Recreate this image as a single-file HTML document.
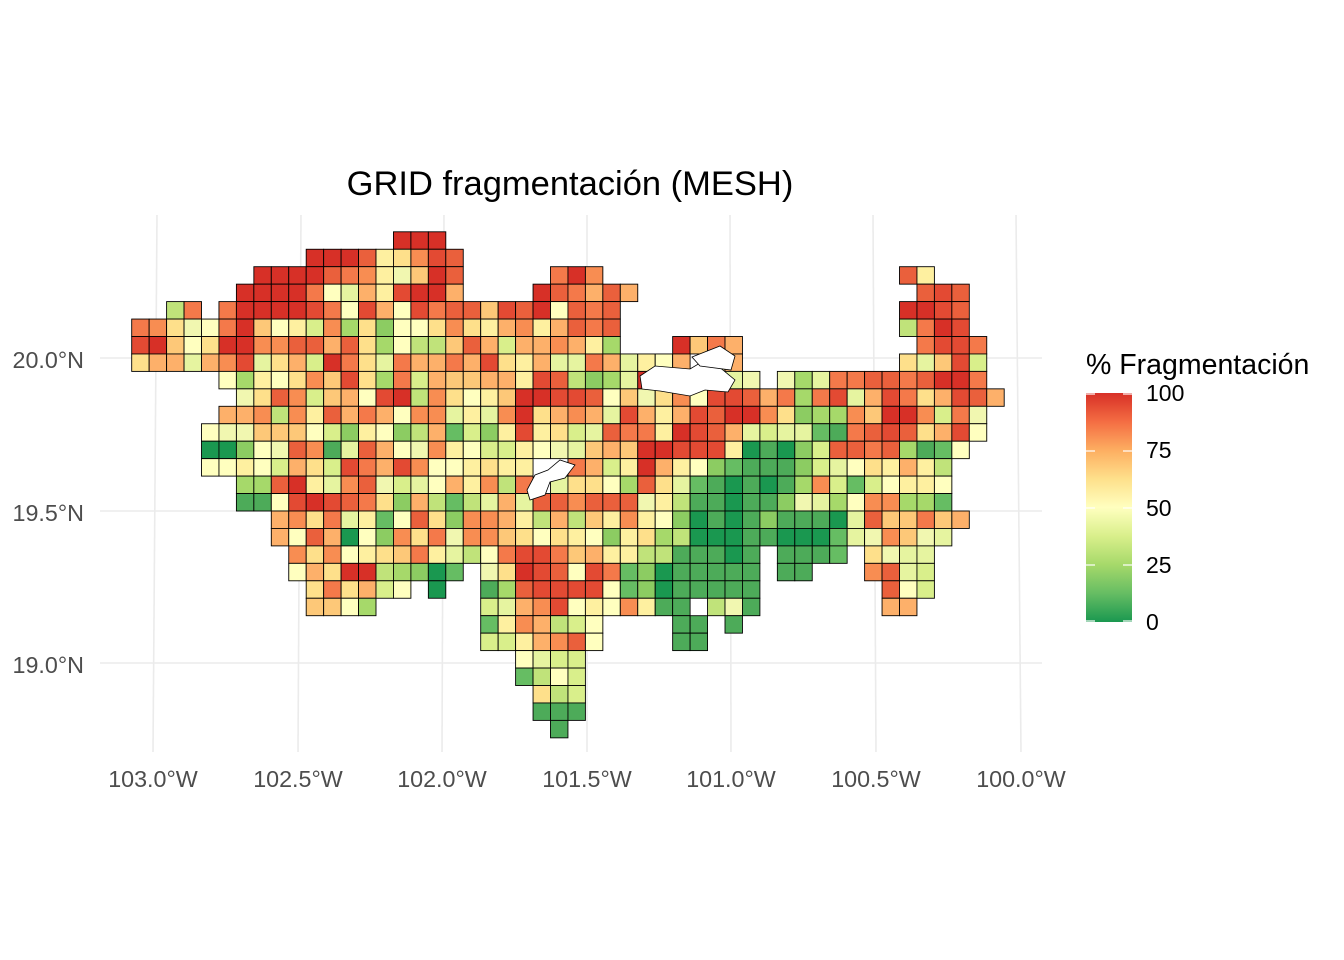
<!DOCTYPE html>
<html><head><meta charset="utf-8">
<style>
html,body{margin:0;padding:0;background:#fff;}
svg{display:block;font-family:"Liberation Sans",Arial,sans-serif;}
</style></head>
<body>
<svg id="s" width="1344" height="960" viewBox="0 0 1344 960" xmlns="http://www.w3.org/2000/svg">
<defs>
<linearGradient id="cb" x1="0" y1="0" x2="0" y2="1">
<stop offset="0" stop-color="#d73027"/>
<stop offset="0.125" stop-color="#f46d43"/>
<stop offset="0.25" stop-color="#fdae61"/>
<stop offset="0.375" stop-color="#fee08b"/>
<stop offset="0.5" stop-color="#ffffbf"/>
<stop offset="0.625" stop-color="#d9ef8b"/>
<stop offset="0.75" stop-color="#a6d96a"/>
<stop offset="0.875" stop-color="#66bd63"/>
<stop offset="1" stop-color="#1a9850"/>
</linearGradient>
</defs>
<g stroke="#ebebeb" stroke-width="1.6" fill="none">
<line x1="157" y1="215" x2="153" y2="752"/>
<line x1="301" y1="215" x2="298" y2="752"/>
<line x1="444" y1="215" x2="442" y2="752"/>
<line x1="587" y1="215" x2="587" y2="752"/>
<line x1="730" y1="215" x2="731" y2="752"/>
<line x1="873" y1="215" x2="876" y2="752"/>
<line x1="1016" y1="215" x2="1021" y2="752"/>
<line x1="100" y1="358" x2="1042" y2="358"/>
<line x1="100" y1="511" x2="1042" y2="511"/>
<line x1="100" y1="663" x2="1042" y2="663"/>
</g>
<g id="cells" stroke="#000" stroke-width="0.9"></g>
<g fill="#fff" stroke="#000" stroke-width="0.8">
<polygon points="640,376 655,366 690,369 700,363 718,366 735,380 728,392 705,390 690,396 660,391 642,389"/>
<polygon points="692,357 720,346 735,356 731,370 700,366"/>
<polygon points="527,490 535,475 548,470 560,460 575,465 565,478 550,482 545,495 530,500"/>
</g>
<text x="570" y="195" font-size="34.5" text-anchor="middle" fill="#000">GRID fragmentación (MESH)</text>
<g font-size="23.3" fill="#4d4d4d">
<text x="84" y="368" text-anchor="end">20.0°N</text>
<text x="84" y="521" text-anchor="end">19.5°N</text>
<text x="84" y="673" text-anchor="end">19.0°N</text>
<text x="153" y="787" text-anchor="middle">103.0°W</text>
<text x="298" y="787" text-anchor="middle">102.5°W</text>
<text x="442" y="787" text-anchor="middle">102.0°W</text>
<text x="587" y="787" text-anchor="middle">101.5°W</text>
<text x="731" y="787" text-anchor="middle">101.0°W</text>
<text x="876" y="787" text-anchor="middle">100.5°W</text>
<text x="1021" y="787" text-anchor="middle">100.0°W</text>
</g>
<text x="1086" y="374" font-size="28.5" fill="#000">% Fragmentación</text>
<rect x="1086" y="393" width="46" height="229" fill="url(#cb)"/>
<g stroke="#fff" stroke-width="1.2">
<line x1="1086" y1="394" x2="1095" y2="394"/><line x1="1123" y1="394" x2="1132" y2="394"/>
<line x1="1086" y1="451" x2="1095" y2="451"/><line x1="1123" y1="451" x2="1132" y2="451"/>
<line x1="1086" y1="508" x2="1095" y2="508"/><line x1="1123" y1="508" x2="1132" y2="508"/>
<line x1="1086" y1="565" x2="1095" y2="565"/><line x1="1123" y1="565" x2="1132" y2="565"/>
<line x1="1086" y1="621" x2="1095" y2="621"/><line x1="1123" y1="621" x2="1132" y2="621"/>
</g>
<g font-size="23" fill="#000">
<text x="1146" y="401">100</text>
<text x="1146" y="458">75</text>
<text x="1146" y="516">50</text>
<text x="1146" y="573">25</text>
<text x="1146" y="630">0</text>
</g>
</svg>
<script>
var rows=[
"...............AAA................................",
"..........AAACIHEBC...............................",
".......AAAACDEIKGAC.....DAE.................CI....",
"......AAAADJLFIBAAF....ACDFCF................CBC..",
"..ND.DAAAABDJBFJBDCCGBCAJCDC................AABC..",
"DEHKJDAGJIMEOHPJJHEHIFEIFCDC................NDAB..",
"BAGJHAAEECCFCHOJNNGCFMFFEFIO...AGDF..........DBBD.",
"HFFLFEBLHFMADHLDFFDFBHIFLLDFLIJF.IF.........HLGBM.",
".....JOIJHEGBHODMFGGFFIBCNPOLA...LLK.KOLDDCCDCAAD.",
"......KHCEMGFJBANEHJIGAABBCJGKHEJBBCFDODBLFBDHFBCF",
".....FFENEICFDFJEELILEAHFEFLBFIFBCAAEHPOOEGAAEMDK.",
"....JKKGGGJMPIJPNFQMPIBIHMLCDDIABCFLMLLQRDCBCHFBJ.",
"....SSPJKCERLCFJKEIJMMIJKLGFGAABBBISRSPMCCDCORQJ..",
"....JJIJMFHMBDFBEJJIHII..DFMIAFIJPQRRRPMLJHIFIN...",
"......OOCAILECKMLJFIEND.LHHJOCHLQRSRSROEMQMJIIJ...",
"......RRJBABCDHPFNQNLFLCCECCCKINRRSRRPKLOJEEOOQ...",
"........FEHDLIQJCHPEEFINFNGIEIJPSRSRPRRRSLCGGDGF..",
"........FJCFSJPEHDKEEGHJHIJPIHONSSSRRSSSQLKEGKL...",
".........EHEJIHGDILNJDBBDGFIINNRRRSR.RRRQ.HKLL....",
".........JFHAANOPSQ.KHABCJBDQPSRRRRR.RR...ECLM....",
"..........HDHFMJ.S..ROCBBBBJQPSRRRRR.......CJM....",
"..........GGJO......MLFEBJIJEIRR.NKR.......FF.....",
"....................QIEFNMJ....RR.R...............",
"....................MMIFECJ....RR.................",
"......................JLMM........................",
"......................QNJM........................",
".......................HNM........................",
".......................RRR........................",
"........................R........................."
];
var col={A:"#d73027",B:"#e34a33",C:"#ea603c",D:"#f4794a",E:"#f88d52",F:"#fdb06a",G:"#fdc878",H:"#fee08b",I:"#fef0a0",J:"#ffffbf",K:"#f1f7b0",L:"#e6f4a0",M:"#d9ef8b",N:"#c0e37a",O:"#a6d96a",P:"#8ccc62",Q:"#66bd63",R:"#4dab59",S:"#1a9850"};
var g=document.getElementById("cells"),ns="http://www.w3.org/2000/svg",s=17.45;
for(var r=0;r<rows.length;r++){for(var c=0;c<rows[r].length;c++){var ch=rows[r][c];if(!col[ch])continue;
var e=document.createElementNS(ns,"rect");e.setAttribute("x",(131.7+s*c).toFixed(2));e.setAttribute("y",(231.8+s*r).toFixed(2));
e.setAttribute("width",s);e.setAttribute("height",s);e.setAttribute("fill",col[ch]);g.appendChild(e);}}
</script>
</body></html>
